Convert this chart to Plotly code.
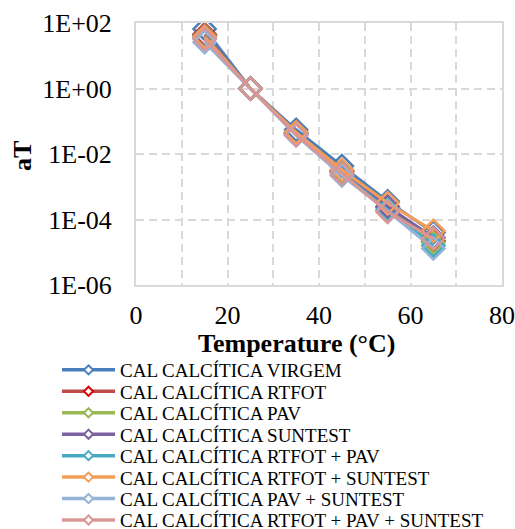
import plotly.graph_objects as go

temperature = [15, 25, 35, 45, 55, 65]

series_names = [
    "CAL CALCÍTICA VIRGEM",
    "CAL CALCÍTICA RTFOT",
    "CAL CALCÍTICA PAV",
    "CAL CALCÍTICA SUNTEST",
    "CAL CALCÍTICA RTFOT + PAV",
    "CAL CALCÍTICA RTFOT + SUNTEST",
    "CAL CALCÍTICA PAV + SUNTEST",
    "CAL CALCÍTICA RTFOT + PAV + SUNTEST",
]

at_virgem = [66, 1, 0.055, 0.0043, 3.6e-4, 4.0e-5]
at_rtfot = [45, 1, 0.045, 0.0030, 2.4e-4, 2.2e-5]
at_pav = [42, 1, 0.044, 0.0029, 2.3e-4, 2.0e-5]
at_suntest = [40, 1, 0.043, 0.0030, 2.5e-4, 2.8e-5]
at_rtfot_pav = [35, 1, 0.040, 0.0026, 2.0e-4, 1.6e-5]
at_rtfot_suntest = [38, 1, 0.046, 0.0033, 3.2e-4, 4.5e-5]
at_pav_suntest = [26, 1, 0.037, 0.0022, 1.8e-4, 1.3e-5]
at_all = [32, 1, 0.038, 0.0025, 1.7e-4, 2.6e-5]

series_values = [at_virgem, at_rtfot, at_pav, at_suntest,
                 at_rtfot_pav, at_rtfot_suntest, at_pav_suntest, at_all]

line_colors = ["#4A7EBB", "#BE4B48", "#98B954", "#7D60A0",
               "#46AAC5", "#F59D56", "#95B3D7", "#D99694"]
marker_colors = ["#4A7EBB", "#E00000", "#98B954", "#7D60A0",
                 "#46AAC5", "#F59D56", "#95B3D7", "#D99694"]

y_tickvals = [1e2, 1e0, 1e-2, 1e-4, 1e-6]
y_ticktext = ["1E+02", "1E+00", "1E-02", "1E-04", "1E-06"]
x_tickvals = [0, 20, 40, 60, 80]

FONT = "Liberation Serif, Times New Roman, Times, serif"

# plot area in pixels
W, H = 515, 529
ML, MR, MT, MB = 136, 13, 23, 244
PW = W - ML - MR
PH = H - MT - MB

def px_x(p):
    return (p - ML) / PW

def px_y(p):
    return (H - MB - p) / PH

fig = go.Figure()

for name, vals, lc, mc in zip(series_names, series_values, line_colors, marker_colors):
    fig.add_trace(go.Scatter(
        x=temperature, y=vals, mode="lines+markers", name=name,
        showlegend=False,
        line=dict(color=lc, width=3),
        marker=dict(symbol="diamond-open", size=17, color=mc,
                    line=dict(color=mc, width=2.5)),
    ))

row_y0 = 370
row_step = 21.45
legend_left = 57
for i, (name, lc, mc) in enumerate(zip(series_names, line_colors, marker_colors)):
    lg = "legend" if i == 0 else f"legend{i+1}"
    fig.add_trace(go.Scatter(
        x=[None], y=[None], mode="lines+markers", name=name,
        legend=lg, showlegend=True,
        line=dict(color=lc, width=3.5),
        marker=dict(symbol="diamond", size=7, color="white",
                    line=dict(color=mc, width=2)),
    ))
    fig.layout[lg] = dict(
        x=px_x(legend_left), xanchor="left",
        y=px_y(row_y0 + i * row_step), yanchor="middle",
        bgcolor="rgba(0,0,0,0)", borderwidth=0,
        font=dict(family=FONT, size=19, color="#000000"),
        itemwidth=53, itemsizing="trace",
    )

grid_color = "#D9D9D9"
fig.update_xaxes(
    range=[0, 80], tickvals=x_tickvals, ticks="",
    showgrid=True, gridcolor=grid_color, gridwidth=1.5, griddash="8px,5px",
    minor=dict(dtick=10, showgrid=True, gridcolor=grid_color, gridwidth=1.5, griddash="8px,5px"),
    showline=True, mirror=True, linecolor=grid_color, linewidth=2,
    zeroline=False,
    tickfont=dict(family=FONT, size=26, color="#000000"),
    ticklabelstandoff=6,
)
fig.update_yaxes(
    type="log", range=[-6, 2], tickvals=y_tickvals, ticktext=y_ticktext, ticks="",
    showgrid=True, gridcolor=grid_color, gridwidth=1.5, griddash="8px,5px",
    showline=True, mirror=True, linecolor=grid_color, linewidth=2,
    zeroline=False,
    tickfont=dict(family=FONT, size=26, color="#000000"),
    ticklabelstandoff=17,
)

fig.add_annotation(
    text="<b>Temperature (°C)</b>", xref="paper", yref="paper",
    x=px_x(296.5), y=px_y(343), xanchor="center", yanchor="middle",
    showarrow=False, font=dict(family=FONT, size=26, color="#000000"),
)
fig.add_annotation(
    text="<b>aT</b>", xref="paper", yref="paper",
    x=px_x(22), y=px_y(156), xanchor="center", yanchor="middle",
    textangle=-90, showarrow=False, font=dict(family=FONT, size=26, color="#000000"),
)

fig.update_layout(
    width=W, height=H,
    margin=dict(l=ML, r=MR, t=MT, b=MB, autoexpand=False),
    paper_bgcolor="white", plot_bgcolor="white",
    font=dict(family=FONT, color="#000000"),
)

fig.write_html("out.html")
